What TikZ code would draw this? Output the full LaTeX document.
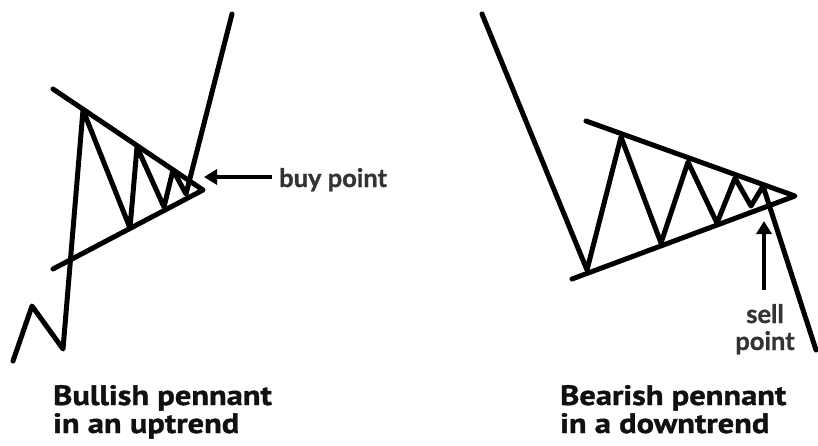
\documentclass[tikz,border=0pt]{standalone}
\usepackage{fontspec}
\setmainfont{PT Sans}
\newfontfamily\titlefont[FakeStretch=1.16,FakeBold=1.2]{PT Sans}
\newfontfamily\labelfont[FakeBold=1.0]{Lato}
\usetikzlibrary{arrows.meta}
\definecolor{titlecol}{HTML}{111111}
\definecolor{labelcol}{HTML}{333333}
\tikzset{
  pline/.style={line width=5pt, line cap=round, line join=round, black},
  callout/.style={line width=4.5pt, black, -{Triangle[length=13pt,width=15pt]}},
  title/.style={anchor=base west, align=left, text=titlecol, inner sep=0pt,
    font=\titlefont\bfseries\fontsize{28}{28}\selectfont},
  lbl/.style={text=labelcol, inner sep=0pt, font=\labelfont\bfseries\fontsize{25.5}{27}\selectfont}
}
\begin{document}
\begin{tikzpicture}[x=1pt,y=-1pt]
\useasboundingbox (0,0) rectangle (818,445);
% ---------- bullish ----------
\coordinate (bu1) at (53,89);
\coordinate (bl1) at (53,269);
\coordinate (bap) at (203,190);
\draw[pline] (bu1) -- (bap) -- (bl1);
\draw[pline] (13,361) -- (32,306) -- (63,349) -- (83,110) -- (130,228) -- (137,147)
  -- (164,207) -- (173,170) -- (186,194) -- (232,14);
\node[lbl, anchor=base west] (buy) at (279,187) {buy point};
\coordinate (buytip) at (204,177);
\draw[callout] (272,177) -- (buytip);
\node[title] (t1) at (53,433) {Bullish pennant\\[0pt]in an uptrend};
% ---------- bearish ----------
\coordinate (su1) at (586,121);
\coordinate (sl1) at (572,279);
\coordinate (sap) at (795,196);
\draw[pline] (su1) -- (sap) -- (sl1);
\draw[pline] (482,14) -- (587,270) -- (621,137) -- (661,243) -- (688,162) -- (717,223)
  -- (735,178) -- (751,206) -- (763,186) -- (816,350);
\node[lbl, align=center, anchor=base] (sell) at (765,350) {sell\\point};
\coordinate (selltip) at (764,221);
\draw[callout] (764,290) -- (selltip);
\node[title] (t2) at (560,433) {Bearish pennant\\[0pt]in a downtrend};
\end{tikzpicture}
\end{document}
